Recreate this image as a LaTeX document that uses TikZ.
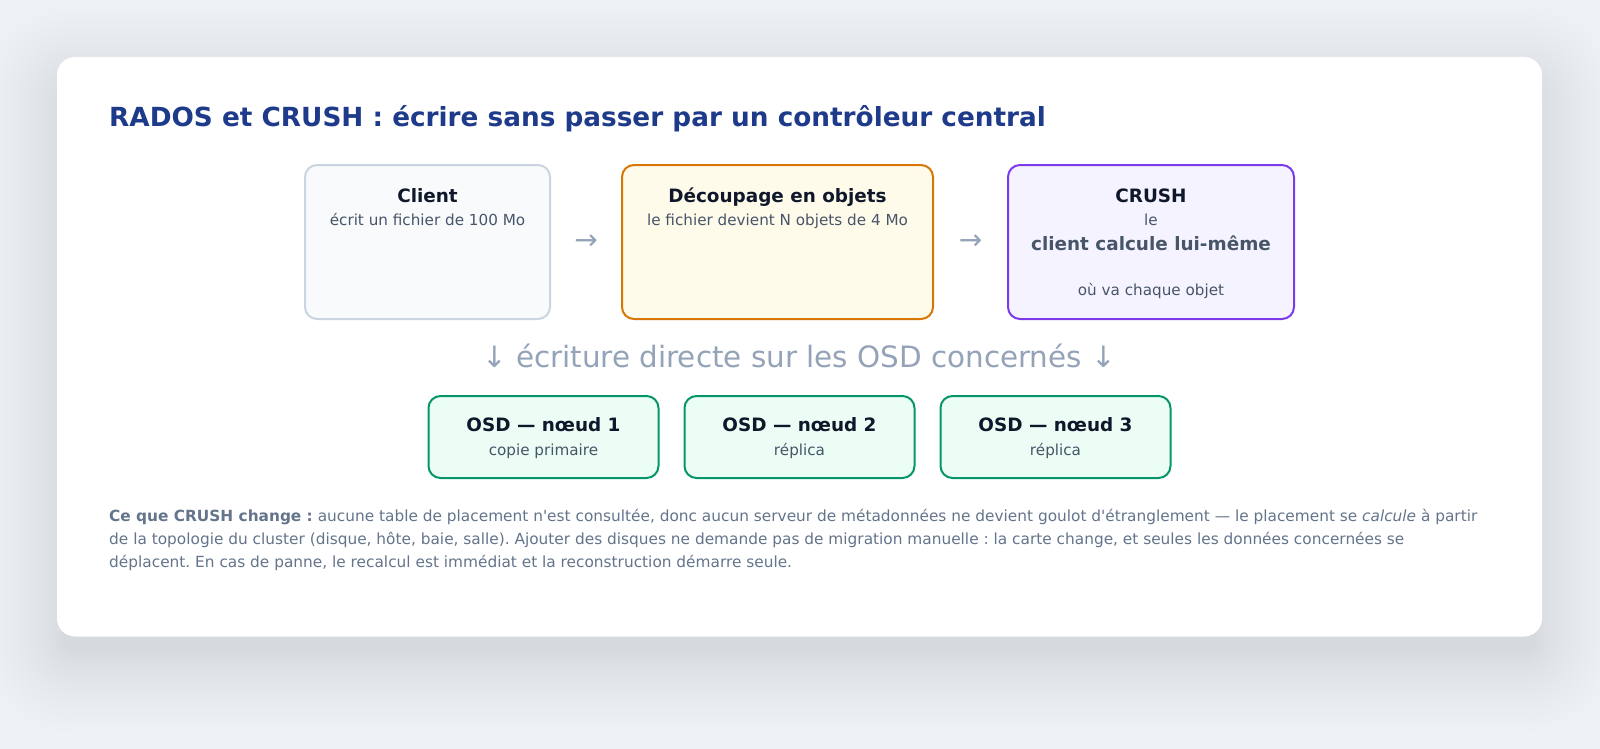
\documentclass[tikz,border=0pt]{standalone}
\usepackage{fontspec}
\setmainfont{DejaVu Sans}
\usetikzlibrary{calc}
\definecolor{bgc}{HTML}{EEF1F5}
\definecolor{shadowc}{HTML}{1E2A44}
\definecolor{titlec}{HTML}{1E3A8A}
\definecolor{ink}{HTML}{0F172A}
\definecolor{sub}{HTML}{475569}
\definecolor{muted}{HTML}{94A3B8}
\definecolor{para}{HTML}{64748B}
\definecolor{clientfill}{HTML}{F8FAFC}
\definecolor{clientdraw}{HTML}{CBD5E1}
\definecolor{decfill}{HTML}{FFFBEB}
\definecolor{decdraw}{HTML}{D97706}
\definecolor{crufill}{HTML}{F5F3FF}
\definecolor{crudraw}{HTML}{7C3AED}
\definecolor{osdfill}{HTML}{ECFDF5}
\definecolor{osddraw}{HTML}{059669}
\tikzset{
  box/.style={draw, line width=2pt, rounded corners=12pt, inner sep=0pt, rectangle},
  osdbox/.style={box, fill=osdfill, draw=osddraw, minimum width=230pt, minimum height=82pt},
  btitle/.style={font=\fontsize{18.4}{22}\selectfont\bfseries, text=ink, anchor=base, inner sep=0pt},
  bsub/.style={font=\fontsize{15.2}{18}\selectfont, text=sub, anchor=base, inner sep=0pt},
  arrowtxt/.style={font=\fontsize{28}{32}\selectfont, text=muted, inner sep=0pt},
  paratxt/.style={font=\fontsize{15.35}{18}\selectfont, text=para, anchor=base west, inner sep=0pt},
}
\frenchspacing
\begin{document}
\begin{tikzpicture}[x=1pt,y=-1pt]
\useasboundingbox (0,0) rectangle (1600,749);
\fill[bgc] (0,0) rectangle (1600,749);
% shadow
\foreach \i [evaluate=\i as \e using 1.5*\i+0.08*\i*\i-8, evaluate=\i as \r using 18+1.5*\i+0.08*\i*\i-8] in {1,...,24}
  \fill[shadowc, opacity=0.0042, rounded corners=\r pt]
    (57-\e, 57-\e+22) rectangle (1542+\e, 636.5+\e+22);
% card
\fill[white, rounded corners=18pt] (57,57) rectangle (1542,636.5);
% title
\node[anchor=base west, inner sep=0pt, font=\fontsize{26.3}{30}\selectfont\bfseries, text=titlec] (title) at (109,127) {RADOS et CRUSH : écrire sans passer par un contrôleur central};
% top boxes
\node[box, fill=clientfill, draw=clientdraw, minimum width=245pt, minimum height=154pt] (client) at (427.5,242) {};
\node[box, fill=decfill, draw=decdraw, minimum width=311pt, minimum height=154pt] (decoup) at (777.5,242) {};
\node[box, fill=crufill, draw=crudraw, minimum width=286pt, minimum height=154pt] (crush) at (1151,242) {};
\node[btitle] (clientT) at (427.5,202) {Client};
\node[bsub] (clientS) at (427.5,225) {écrit un fichier de 100 Mo};
\node[btitle] (decoupT) at (777.5,202) {Découpage en objets};
\node[bsub] (decoupS) at (777.5,225) {le fichier devient N objets de 4 Mo};
\node[btitle] (crushT) at (1151,202) {CRUSH};
\node[bsub] (crushS1) at (1151,225) {le};
\node[btitle, text=sub] (crushS2) at (1151,250) {client calcule lui-même};
\node[bsub] (crushS3) at (1151,295) {où va chaque objet};
% arrows
\node[arrowtxt] (a1) at ($(client.east)!0.5!(decoup.west)$) {→};
\node[arrowtxt] (a2) at ($(decoup.east)!0.5!(crush.west)$) {→};
% middle text
\node[anchor=base, inner sep=0pt, font=\fontsize{29.4}{34}\selectfont, text=muted] (mid) at (799,367) {↓ écriture directe sur les OSD concernés ↓};
% OSD boxes
\node[osdbox] (osd1) at (543.5,437) {};
\node[osdbox] (osd2) at (799.5,437) {};
\node[osdbox] (osd3) at (1055.5,437) {};
\node[btitle] (osd1T) at (543.5,431.5) {OSD — nœud 1};
\node[bsub] (osd1S) at (543.5,455) {copie primaire};
\node[btitle] (osd2T) at (799.5,431.5) {OSD — nœud 2};
\node[bsub] (osd2S) at (799.5,455) {réplica};
\node[btitle] (osd3T) at (1055.5,431.5) {OSD — nœud 3};
\node[bsub] (osd3S) at (1055.5,455) {réplica};
% paragraph
\node[paratxt] (p1) at (109,521) {\textbf{Ce que CRUSH change :} aucune table de placement n\textquotesingle est consultée, donc aucun serveur de métadonnées ne devient goulot d\textquotesingle étranglement — le placement se \textit{calcule} à partir};
\node[paratxt] (p2) at (109,544) {de la topologie du cluster (disque, hôte, baie, salle). Ajouter des disques ne demande pas de migration manuelle : la carte change, et seules les données concernées se};
\node[paratxt] (p3) at (109,567) {déplacent. En cas de panne, le recalcul est immédiat et la reconstruction démarre seule.};
\end{tikzpicture}
\end{document}
